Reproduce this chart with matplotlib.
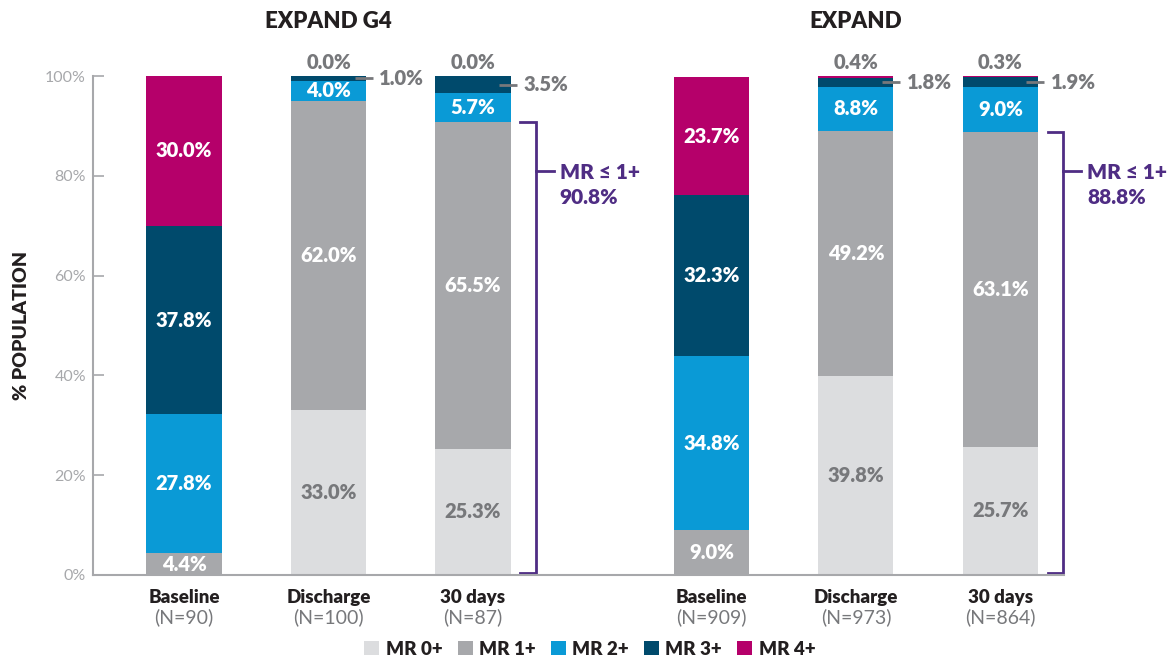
import numpy as np
import matplotlib
matplotlib.use("Agg")
import matplotlib.pyplot as plt
import matplotlib.transforms as mtransforms
from matplotlib.patches import Patch

plt.rcParams['font.family'] = ['Lato', 'DejaVu Sans']
BOLD = 800

# data
groups = ["EXPAND G4", "EXPAND"]
timepoints = ["Baseline", "Discharge", "30 days", "Baseline", "Discharge", "30 days"]
n_labels = ["(N=90)", "(N=100)", "(N=87)", "(N=909)", "(N=973)", "(N=864)"]
levels = ["MR 0+", "MR 1+", "MR 2+", "MR 3+", "MR 4+"]
mr0 = [0.0, 33.0, 25.3, 0.0, 39.8, 25.7]
mr1 = [4.4, 62.0, 65.5, 9.0, 49.2, 63.1]
mr2 = [27.8, 4.0, 5.7, 34.8, 8.8, 9.0]
mr3 = [37.8, 1.0, 3.5, 32.3, 1.8, 1.9]
mr4 = [30.0, 0.0, 0.0, 23.7, 0.4, 0.3]
mr_le1 = [90.8, 88.8]   # MR <= 1+ at 30 days

colors = ["#dcdddf", "#a7a8ab", "#0a9ad6", "#004a6c", "#b5006a"]
purple = "#4f2d84"
gray_txt = "#77787b"
dark = "#231f20"

x = np.array([0, 1, 2, 3.65, 4.65, 5.65])
width = 0.52

fig = plt.figure(figsize=(11.68, 6.64), dpi=100)
ax = fig.add_axes([93/1168, 89/664, 971/1168, 499/664])

series = [mr0, mr1, mr2, mr3, mr4]
bottom = np.zeros(len(x))
for i, vals in enumerate(series):
    vals = np.array(vals)
    ax.bar(x, vals, width, bottom=bottom, color=colors[i], linewidth=0)
    for j in range(len(x)):
        v = vals[j]
        mid = bottom[j] + v / 2
        if v >= 4:
            c = gray_txt if i == 0 else "white"
            ax.text(x[j], mid, f"{v:.1f}%", ha="center", va="center",
                    fontsize=14.5, fontweight=BOLD, color=c)
        elif i == 4:
            ax.text(x[j], 100.9, f"{v:.1f}%", ha="center", va="bottom",
                    fontsize=14.5, fontweight=BOLD, color=gray_txt)
        elif i == 3:
            ax.plot([x[j] + 0.18, x[j] + 0.305], [mid, mid], color=gray_txt, lw=2,
                    solid_capstyle="butt", clip_on=False)
            ax.text(x[j] + 0.35, mid, f"{v:.1f}%", ha="left", va="center",
                    fontsize=14.5, fontweight=BOLD, color=gray_txt)
    bottom += vals

# MR <= 1+ brackets
for k, j in enumerate([2, 5]):
    bx = x[j] + 0.436
    top = mr_le1[k]
    ax.plot([bx - 0.11, bx, bx, bx - 0.11], [top, top, 0.4, 0.4], color=purple,
            lw=2, clip_on=False, solid_joinstyle="miter")
    ax.plot([bx, bx + 0.125], [81, 81], color=purple, lw=2, clip_on=False)
    ax.text(bx + 0.165, 80.6, "MR \u2264 1+", ha="left", va="center",
            fontsize=15, fontweight=BOLD, color=purple)
    ax.text(bx + 0.165, 75.6, f"{top:.1f}%", ha="left", va="center",
            fontsize=15, fontweight=BOLD, color=purple)

# group titles
ax.text(x[1], 111, groups[0], ha="center", va="center", fontsize=16,
        fontweight=BOLD, color=dark, clip_on=False)
ax.text(x[4], 111, groups[1], ha="center", va="center", fontsize=16,
        fontweight=BOLD, color=dark, clip_on=False)

ax.set_xlim(-0.63, 6.09)
ax.set_ylim(0, 100)
ax.set_yticks(range(0, 101, 20))
ax.set_yticklabels([f"{t}%" for t in range(0, 101, 20)], fontsize=11.5, color="#a7a8ab")
ax.tick_params(axis="y", direction="in", length=8, width=1.2, color="#a7a8ab", pad=5)
ax.set_xticks([])
for s in ["top", "right"]:
    ax.spines[s].set_visible(False)
for s in ["left", "bottom"]:
    ax.spines[s].set_color("#a7a8ab")
    ax.spines[s].set_linewidth(1.5)

trans = mtransforms.blended_transform_factory(ax.transData, ax.transAxes)
for j in range(len(x)):
    ax.text(x[j], -0.045, timepoints[j], transform=trans, ha="center", va="center",
            fontsize=13.5, fontweight=BOLD, color=dark)
    ax.text(x[j], -0.085, n_labels[j], transform=trans, ha="center", va="center",
            fontsize=14, color=gray_txt)

ax.set_ylabel("% POPULATION", fontsize=14, fontweight=BOLD, color=dark, labelpad=11)

handles = [Patch(facecolor=c, edgecolor="none") for c in colors]
fig.legend(handles, levels, loc="lower center", bbox_to_anchor=(0.505, -0.016), ncol=5,
           frameon=False, handlelength=0.8, handleheight=0.8, handletextpad=0.35,
           columnspacing=0.8, prop={"weight": BOLD, "size": 13.5})
for t in fig.legends[0].get_texts():
    t.set_color(dark)

fig.savefig("out.png", dpi=100)
